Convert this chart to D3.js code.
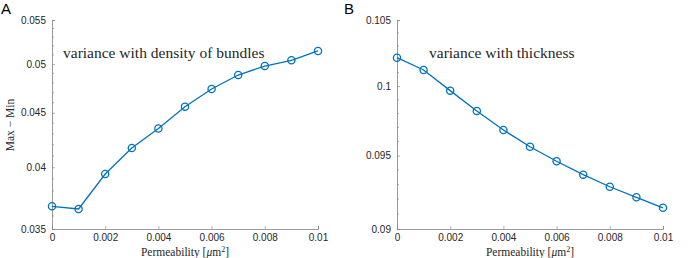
<!DOCTYPE html>
<html>
<head>
<meta charset="utf-8">
<script src="https://cdn.jsdelivr.net/npm/d3@7"></script>
<style>
  body { margin: 0; background: #fff; }
  svg { display: block; }
  .tick text { font-family: "Liberation Sans", Arial, sans-serif; font-size: 10px; fill: #262626; }
  .serif { font-family: "Liberation Serif", "DejaVu Serif", serif; fill: #262626; }
</style>
</head>
<body>
<svg id="chart" width="690" height="258"></svg>
<script>
(function() {

// permeability values (shared x)
const permeability = [0, 0.001, 0.002, 0.003, 0.004, 0.005, 0.006, 0.007, 0.008, 0.009, 0.01];
const xTicks = [0, 0.002, 0.004, 0.006, 0.008, 0.01];

// panel A: variance with density of bundles
const densityValues = [0.03676, 0.03655, 0.03942, 0.0417, 0.0435, 0.0456, 0.04738, 0.04883, 0.04979, 0.05041, 0.05144];
const densityTicks = [0.035, 0.04, 0.045, 0.05, 0.055];

// panel B: variance with thickness
const thicknessValues = [0.10212, 0.1012, 0.09967, 0.09819, 0.09682, 0.09563, 0.09461, 0.09368, 0.09285, 0.09213, 0.09142];
const thicknessTicks = [0.09, 0.095, 0.1, 0.105];

const svg = d3.select("#chart");
const blue = "#0072BD", axisColor = "#808080";

/**
 * Draw one panel
 */

function drawPanel(opts) {
    const x = d3.scaleLinear().domain([0, 0.01]).range([opts.left, opts.right]);
    const y = d3.scaleLog().domain(opts.yDomain).range([229, 20]);

    const g = svg.append("g");

    // minor y ticks
    const minor = d3.range(Math.round(opts.yDomain[0] * 1000), Math.round(opts.yDomain[1] * 1000) + 1)
        .map((d) => d / 1000)
        .filter((d) => !opts.yTicks.some((t) => Math.abs(t - d) < 1e-9));

    g.append("g")
        .selectAll("line")
        .data(minor)
        .enter().append("line")
        .attr("x1", opts.left).attr("x2", opts.left + 2)
        .attr("y1", (d) => y(d)).attr("y2", (d) => y(d))
        .attr("stroke", axisColor).attr("stroke-width", 0.6);

    const yAxis = g.append("g")
        .attr("transform", "translate(" + opts.left + ",0)")
        .call(d3.axisLeft(y).tickValues(opts.yTicks).tickSize(-3).tickPadding(6)
            .tickFormat((d) => String(+d.toFixed(3))));

    const xAxis = g.append("g")
        .attr("transform", "translate(0,229)")
        .call(d3.axisBottom(x).tickValues(xTicks).tickSize(-3).tickPadding(5)
            .tickFormat((d) => String(+d.toFixed(3))));

    [xAxis, yAxis].forEach(function(a) {
        a.select(".domain").attr("stroke", axisColor).attr("stroke-width", 0.8);
        a.selectAll(".tick line").attr("stroke", axisColor).attr("stroke-width", 0.6);
    });

    // data line
    const pts = permeability.map((p, i) => [p, opts.values[i]]);
    g.append("path")
        .datum(pts)
        .attr("fill", "none")
        .attr("stroke", blue)
        .attr("stroke-width", 1.3)
        .attr("d", d3.line().x((d) => x(d[0])).y((d) => y(d[1])));

    g.append("g")
        .selectAll("circle")
        .data(pts)
        .enter().append("circle")
        .attr("cx", (d) => x(d[0]))
        .attr("cy", (d) => y(d[1]))
        .attr("r", 3.6)
        .attr("fill", "none")
        .attr("stroke", blue)
        .attr("stroke-width", 1.3);

    // annotation
    g.append("text")
        .attr("class", "serif")
        .attr("x", opts.noteX).attr("y", 58)
        .attr("font-size", 15.5)
        .text(opts.note);

    // x label
    const xl = g.append("text")
        .attr("class", "serif")
        .attr("x", (opts.left + opts.right) / 2).attr("y", 255.5)
        .attr("text-anchor", "middle")
        .attr("font-size", 11.5);
    xl.append("tspan").text("Permeability [");
    xl.append("tspan").attr("font-style", "italic").text("μ");
    xl.append("tspan").text("m");
    xl.append("tspan").attr("font-size", 8).attr("dy", -4).text("2");
    xl.append("tspan").attr("dy", 4).text("]");

    // panel letter
    svg.append("text")
        .attr("x", opts.letterX).attr("y", 14)
        .attr("font-family", "Liberation Sans, Arial, sans-serif")
        .attr("font-size", 15)
        .attr("fill", "#000")
        .text(opts.letter);
}

drawPanel({
    left: 52, right: 318,
    yDomain: [0.035, 0.055], yTicks: densityTicks,
    values: densityValues,
    note: "variance with density of bundles", noteX: 63,
    letter: "A", letterX: 1
});

drawPanel({
    left: 397, right: 663,
    yDomain: [0.09, 0.105], yTicks: thicknessTicks,
    values: thicknessValues,
    note: "variance with thickness", noteX: 429,
    letter: "B", letterX: 344
});

// y label on panel A
svg.append("text")
    .attr("class", "serif")
    .attr("transform", "translate(14,125) rotate(-90)")
    .attr("text-anchor", "middle")
    .attr("font-size", 11.5)
    .text("Max − Min");

})();
</script>
</body>
</html>
